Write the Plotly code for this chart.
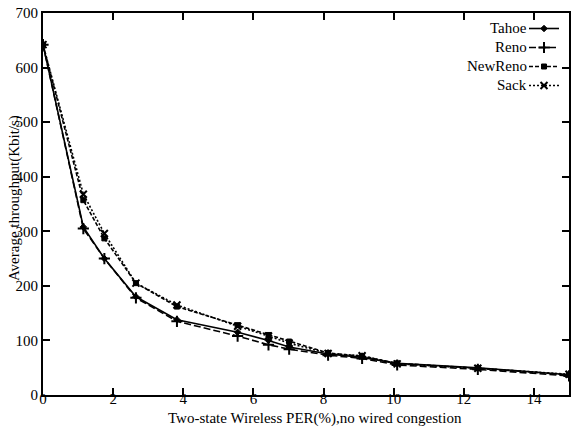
import plotly.graph_objects as go

per = [0, 1.15, 1.75, 2.65, 3.82, 5.55, 6.43, 7.02, 8.13, 9.1, 10.1, 12.4, 15]
tahoe = [642, 308, 250, 180, 138, 115, 100, 88, 75, 69, 58, 50, 37]
reno = [642, 305, 250, 178, 135, 108, 92, 84, 73, 67, 55, 47, 35]
newreno = [642, 357, 287, 205, 162, 128, 110, 98, 77, 71, 58, 49, 37]
sack = [642, 368, 296, 205, 165, 126, 108, 95, 76, 72, 57, 49, 38]

names = ["Tahoe", "Reno", "NewReno", "Sack"]
series = [tahoe, reno, newreno, sack]
dashes = ["solid", "7px,3px", "4px,2px", "2px,2px"]
symbols = ["diamond", "cross-thin", "square", "x-thin"]
msizes = [5, 8, 5, 7]
mlw = [1, 2, 1, 2]

PL, PR, PT, PB = 43, 571, 13, 395
W, H = PR - PL, PB - PT


def px(xp):
    return (xp - PL) / W


def py(yp):
    return 1 - (yp - PT) / H


fig = go.Figure()
for n, ys, d, s, ms, lw in zip(names, series, dashes, symbols, msizes, mlw):
    fig.add_trace(go.Scatter(
        x=per, y=ys, mode="lines+markers", name="",
        line=dict(color="black", width=1.6, dash=d),
        marker=dict(symbol=s, size=ms, color="black",
                    line=dict(color="black", width=lw)),
        showlegend=True,
    ))

FS = 15
font = dict(family="Liberation Serif", size=FS, color="black")
leg_y = [28, 47, 66, 85]
for n, yy in zip(names, leg_y):
    fig.add_annotation(text=n, xref="paper", yref="paper", x=px(531),
                       y=py(yy), xanchor="right", yanchor="middle",
                       showarrow=False, font=font)

fig.add_annotation(text="Average throughput(Kbit/s)", xref="paper", yref="paper",
                   x=px(15), y=py(198), textangle=-90,
                   xanchor="center", yanchor="middle", showarrow=False, font=font)
fig.add_annotation(text="Two-state Wireless PER(%),no wired congestion", xref="paper",
                   yref="paper", x=px(316), y=py(418), xanchor="center",
                   yanchor="middle", showarrow=False, font=font)

axis_common = dict(showline=True, linecolor="black", linewidth=2, mirror="ticks",
                   ticks="inside", ticklen=7, tickwidth=2, tickcolor="black",
                   showgrid=False, zeroline=False, tickfont=font)

fig.update_layout(
    width=573, height=430,
    margin=dict(l=PL, r=573 - PR, t=PT, b=430 - PB),
    paper_bgcolor="white", plot_bgcolor="white",
    font=font,
    xaxis=dict(range=[0, 15], dtick=2, tick0=0, ticklabelstandoff=-11, **axis_common),
    yaxis=dict(range=[0, 700], dtick=100, **axis_common),
    legend=dict(x=px(571), y=py(14), xanchor="right", yanchor="top",
                bgcolor="rgba(0,0,0,0)", itemwidth=30, tracegroupgap=0,
                font=dict(family="Liberation Serif", size=10), itemclick=False),
    showlegend=True,
)

fig.write_html("out.html")
